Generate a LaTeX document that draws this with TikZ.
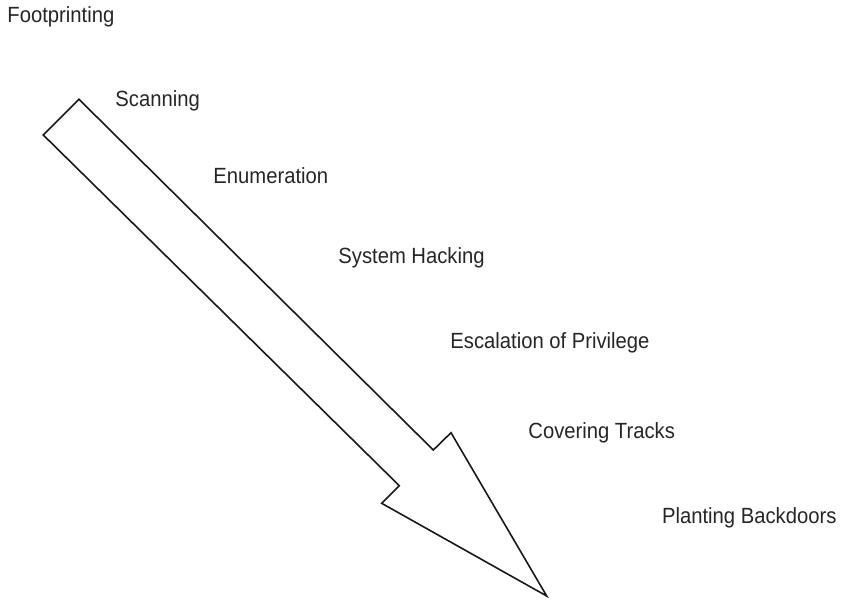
\documentclass[tikz,border=0pt]{standalone}
\usepackage{fontspec}
\setmainfont{Liberation Sans}[FakeStretch=0.92]
\usepackage{tikz}

\begin{document}
\begin{tikzpicture}[x=0.5pt,y=-0.5pt,
    phase/.style={anchor=base west,inner sep=0pt,text=black!85,font=\fontsize{11}{13}\selectfont},
    bigarrow/.style={draw=black!90,line width=0.8pt,line join=miter,fill=white}]

    \useasboundingbox (0,0) rectangle (844,601);

    % the hollow arrow
    \draw[bigarrow] (79,99.3) -- (433.3,450) -- (451,432.7) -- (546.7,596)
        -- (381.7,503.3) -- (399.3,485.7) -- (43.3,135) -- cycle;

    \foreach \x/\y/\t/\n in {7/22.7/Footprinting/foot,
                             115/106/Scanning/scan,
                             213/183.3/Enumeration/enum,
                             338/263.3/System Hacking/hack,
                             450/348.3/Escalation of Privilege/priv,
                             528/438.3/Covering Tracks/cover,
                             661.7/523.3/Planting Backdoors/plant}
        \node[phase] (\n) at (\x,\y) {\t};

\end{tikzpicture}
\end{document}
